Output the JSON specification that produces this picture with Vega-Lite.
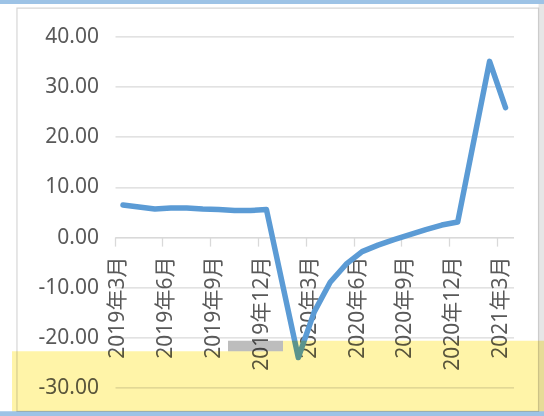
{
  "$schema": "https://vega.github.io/schema/vega-lite/v6.json",
  "width": 398.5,
  "height": 351.4,
  "autosize": {"type": "none"},
  "padding": {"left": 115, "top": 36.3, "right": 30.5, "bottom": 28.3},
  "background": "white",
  "config": {"view": {"stroke": null}, "font": "Noto Sans, Noto Sans CJK SC"},
  "datasets": {
    "series": [
      {"month": "2019年3月", "value": 6.4},
      {"month": "2019年4月", "value": 6.0},
      {"month": "2019年5月", "value": 5.6},
      {"month": "2019年6月", "value": 5.8},
      {"month": "2019年7月", "value": 5.8},
      {"month": "2019年8月", "value": 5.6},
      {"month": "2019年9月", "value": 5.5},
      {"month": "2019年10月", "value": 5.3},
      {"month": "2019年11月", "value": 5.3},
      {"month": "2019年12月", "value": 5.5},
      {"month": "2020年2月", "value": -24.0},
      {"month": "2020年3月", "value": -14.9},
      {"month": "2020年4月", "value": -9.0},
      {"month": "2020年5月", "value": -5.4},
      {"month": "2020年6月", "value": -2.9},
      {"month": "2020年7月", "value": -1.6},
      {"month": "2020年8月", "value": -0.5},
      {"month": "2020年9月", "value": 0.5},
      {"month": "2020年10月", "value": 1.5},
      {"month": "2020年11月", "value": 2.4},
      {"month": "2020年12月", "value": 3.0},
      {"month": "2021年2月", "value": 35.0},
      {"month": "2021年3月", "value": 25.8}
    ],
    "shapes": [
      {"kind": "bar", "x0": -7.5, "x1": 27.5, "y0": 47.7, "y1": 46.45},
      {"kind": "bar", "x0": -7.5, "x1": 27.5, "y0": -34.7, "y1": -36.2},
      {"kind": "highlight", "x0": -6.46, "x1": 10.54, "y0": -22.75, "y1": -34.7},
      {"kind": "highlight", "x0": 10.54, "x1": 27.5, "y0": -20.66, "y1": -34.7},
      {"kind": "strip", "x0": 7.09, "x1": 10.54, "y0": -20.66, "y1": -22.75},
      {"kind": "edge", "x0": 26.57, "x1": 27.5, "y0": 46.45, "y1": -34.7}
    ],
    "frame": [
      {"x0": -6.15, "x1": 26.57, "y0": 45.6, "y1": -34.7}
    ]
  },
  "layer": [
    {
      "data": {"name": "series"},
      "mark": {"type": "line", "color": "#5B9BD5", "strokeWidth": 5.5, "strokeCap": "round", "strokeJoin": "round"},
      "encoding": {
        "x": {
          "field": "month", "type": "ordinal", "sort": null, "bandPosition": 0.5, "title": null,
          "scale": {
            "type": "band", "paddingInner": 0, "paddingOuter": 0,
            "domain": ["2019年3月","2019年4月","2019年5月","2019年6月","2019年7月","2019年8月","2019年9月","2019年10月","2019年11月","2019年12月","2020年1月","2020年2月","2020年3月","2020年4月","2020年5月","2020年6月","2020年7月","2020年8月","2020年9月","2020年10月","2020年11月","2020年12月","2021年1月","2021年2月","2021年3月"]
          },
          "axis": {
            "values": ["2019年3月","2019年6月","2019年9月","2019年12月","2020年3月","2020年6月","2020年9月","2020年12月","2021年3月"],
            "bandPosition": 0, "orient": "bottom", "offset": -150.6,
            "labelAngle": -90, "labelFontSize": 21, "labelColor": "#595959",
            "labelPadding": 10, "labelOffset": -4.5, "tickSize": 9, "tickColor": "#D9D9D9", "tickWidth": 1.3,
            "domainColor": "#D9D9D9", "domainWidth": 1.3, "grid": false, "labelOverlap": false
          }
        },
        "y": {
          "field": "value", "type": "quantitative", "title": null,
          "scale": {"domain": [-30, 40], "nice": false},
          "axis": {
            "values": [-30, -20, -10, 0, 10, 20, 30, 40],
            "labelExpr": "replace(format(datum.value, '.2f'), '\u2212', '-')",
            "domain": false, "ticks": false, "gridColor": "#D9D9D9", "gridWidth": 1.3,
            "labelFontSize": 21, "labelColor": "#595959", "labelPadding": 16.5
          }
        }
      }
    },
    {
      "data": {"name": "shapes"},
      "mark": {"type": "rect", "blend": "multiply"},
      "encoding": {
        "x": {"field": "x0", "type": "quantitative", "scale": {"domain": [0, 25], "nice": false, "zero": false}, "axis": null},
        "x2": {"field": "x1"},
        "y": {"field": "y0", "type": "quantitative", "title": null, "scale": {"domain": [-30, 40], "nice": false}},
        "y2": {"field": "y1"},
        "color": {
          "field": "kind", "type": "nominal", "legend": null,
          "scale": {"domain": ["highlight", "strip", "bar", "edge"], "range": ["#FFF4A8", "#BDBDBD", "#9DC3E6", "#E6E6E6"]}
        }
      }
    },
    {
      "data": {"name": "frame"},
      "mark": {"type": "rect", "filled": false, "stroke": "#D6D6D6", "strokeWidth": 1.2, "blend": "multiply"},
      "encoding": {
        "x": {"field": "x0", "type": "quantitative", "scale": {"domain": [0, 25], "nice": false, "zero": false}, "axis": null},
        "x2": {"field": "x1"},
        "y": {"field": "y0", "type": "quantitative", "title": null, "scale": {"domain": [-30, 40], "nice": false}},
        "y2": {"field": "y1"}
      }
    }
  ],
  "resolve": {"scale": {"x": "independent"}}
}
